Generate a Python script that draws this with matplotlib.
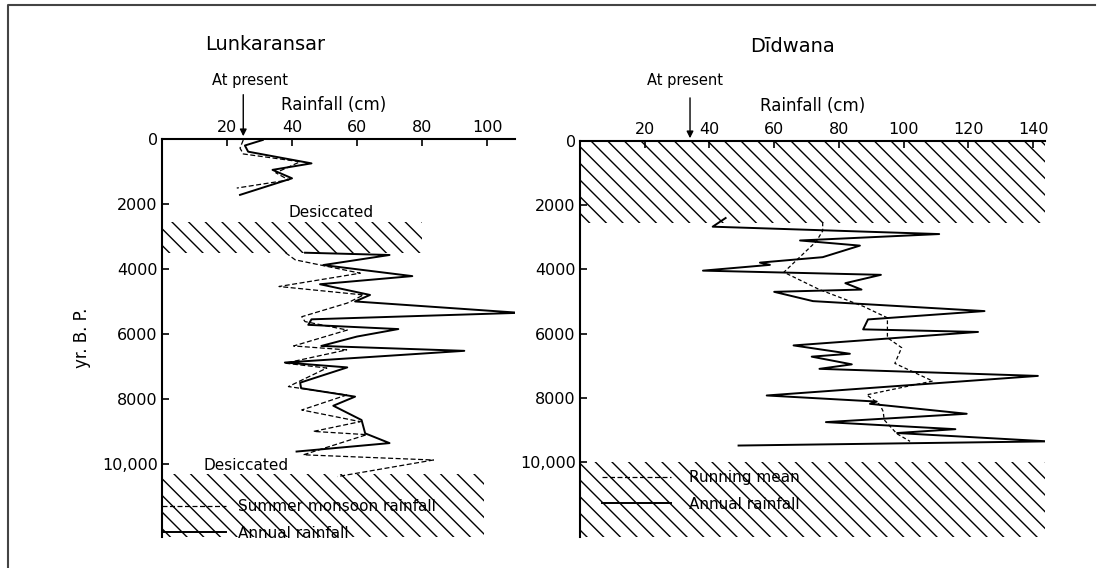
import numpy as np
import matplotlib
matplotlib.use("Agg")
import matplotlib.pyplot as plt
from matplotlib.patches import Rectangle
from matplotlib.lines import Line2D

# Lunkaransar: annual and summer monsoon rainfall (cm) vs yr B.P.
lunk_annual_yr_a = [30, 200, 390, 750, 950, 1210, 1720]
lunk_annual_cm_a = [31, 25.5, 26.5, 46, 34, 40, 24]
lunk_summer_yr_a = [30, 280, 460, 700, 1040, 1260, 1510]
lunk_summer_cm_a = [25, 24, 25, 42.5, 35, 39, 23]

lunk_annual_yr_b = [3500, 3570, 3880, 4220, 4470, 4800, 5000, 5350, 5550, 5720, 5850,
                    6080, 6370, 6520, 6880, 7030, 7500, 7670, 7930, 8210, 8650, 9060,
                    9360, 9620]
lunk_annual_cm_b = [44, 70, 49.6, 77, 48.6, 64, 59.4, 110, 46, 45, 72.7,
                    60, 49, 93, 37.8, 57, 42.5, 42.8, 59.4, 52.7, 61.4, 62.5,
                    70, 41.4]
lunk_summer_yr_b = [3500, 3720, 4130, 4540, 4800, 5050, 5470, 5620, 5880, 6370, 6490,
                    6900, 7050, 7620, 7880, 8340, 8700, 9000, 9100, 9720, 9880, 10390]
lunk_summer_cm_b = [38, 41, 61, 36, 62, 57, 43, 44, 57, 40.5, 56.8,
                    37.9, 50.7, 38.9, 56.8, 43, 61, 46.6, 63, 43.5, 83.5, 54]

# Didwana: annual rainfall and running mean
did_annual_yr = [2400, 2670, 2900, 3100, 3260, 3620, 3790, 3860, 4040, 4170, 4430,
                 4630, 4700, 4990, 5300, 5560, 5870, 5950, 6370, 6630, 6720, 6960,
                 7100, 7320, 7650, 7930, 8120, 8190, 8500, 8760, 8980, 9100, 9360, 9490]
did_annual_cm = [45, 41, 111, 68, 86.5, 75, 55.6, 58.7, 38, 93, 82,
                 87, 60, 72, 125, 89, 87.5, 123, 66, 83.4, 71.6, 84,
                 74, 141.5, 96, 57.7, 91.7, 89.6, 119.5, 76, 116, 98, 144.6, 49]
did_mean_yr = [2540, 2800, 3130, 4090, 4630, 5150, 5510, 6130, 6440, 6930, 7480,
               7910, 8220, 8430, 8690, 9120, 9360]
did_mean_cm = [75, 75, 73, 63, 74, 87.5, 95, 95, 99.4, 97.3, 109,
               88.6, 92.7, 93.7, 94, 97.9, 102]

# desiccated (hatched) intervals: (x_max, yr_top, yr_bottom)
lunk_hatch = [(80, 2550, 3500), (99, 10300, 12250)]
did_hatch = [(145, 0, 2550), (145, 10000, 12340)]

y_ticks = [0, 2000, 4000, 6000, 8000, 10000]
y_labels = ["0", "2000", "4000", "6000", "8000", "10,000"]

plt.rcParams["font.family"] = "DejaVu Sans"
plt.rcParams["hatch.linewidth"] = 1.0

W, H = 1101, 568
fig = plt.figure(figsize=(W / 100, H / 100), dpi=100)


def px_axes(x0, x1, y0, y1):
    return fig.add_axes([x0 / W, 1 - y1 / H, (x1 - x0) / W, (y1 - y0) / H])


def style(ax, xmax, ymax, xticks):
    ax.set_xlim(0, xmax)
    ax.set_ylim(ymax, 0)
    for s in ["right", "bottom"]:
        ax.spines[s].set_visible(False)
    for s in ["left", "top"]:
        ax.spines[s].set_linewidth(1.5)
    ax.xaxis.tick_top()
    ax.set_xticks(xticks)
    ax.set_yticks(y_ticks)
    ax.set_yticklabels(y_labels)
    ax.tick_params(direction="in", length=5, width=1.2, labelsize=11.5, pad=3)
    ax.patch.set_alpha(0)


def hatch(ax, regions):
    for xmax, top, bot in regions:
        ax.add_patch(Rectangle((0, top), xmax, bot - top, facecolor="none",
                               edgecolor="black", hatch="\\\\", linewidth=0))


# ---- Lunkaransar ----
ax1 = px_axes(162, 515, 139, 537)
style(ax1, 108.6, 12250, [20, 40, 60, 80, 100])
hatch(ax1, lunk_hatch)
ax1.plot(lunk_annual_cm_a, lunk_annual_yr_a, "k-", lw=1.4)
ax1.plot(lunk_summer_cm_a, lunk_summer_yr_a, "k--", lw=0.9, dashes=(4, 2))
ax1.plot(lunk_annual_cm_b, lunk_annual_yr_b, "k-", lw=1.4)
ax1.plot(lunk_summer_cm_b, lunk_summer_yr_b, "k--", lw=0.9, dashes=(4, 2))
ax1.annotate("", xy=(25, 0), xytext=(25, -1450),
             arrowprops=dict(arrowstyle="-|>", color="black", lw=1.0, mutation_scale=10))
ax1.text(27, -1815, "At present", ha="center", va="center", fontsize=10.5)
ax1.text(52, 2250, "Desiccated", ha="center", va="center", fontsize=11)
ax1.text(26, 10050, "Desiccated", ha="center", va="center", fontsize=11)
h1 = [Line2D([], [], color="k", ls="--", lw=0.9, dashes=(4, 2)),
      Line2D([], [], color="k", lw=1.4)]
ax1.legend(h1, ["Summer monsoon rainfall", "Annual rainfall"], loc="upper left",
           bbox_to_anchor=(0.0, 0.095), frameon=False, fontsize=11,
           handlelength=4.2, handletextpad=0.8, labelspacing=0.75,
           borderpad=0, borderaxespad=0)
ax1.set_ylabel("yr. B. P.", fontsize=12, labelpad=8)

# ---- Didwana ----
ax2 = px_axes(580, 1045, 141, 537)
style(ax2, 143.7, 12340, [20, 40, 60, 80, 100, 120, 140])
hatch(ax2, did_hatch)
ax2.plot(did_annual_cm, did_annual_yr, "k-", lw=1.4)
ax2.plot(did_mean_cm, did_mean_yr, "k--", lw=0.9, dashes=(3, 2))
ax2.annotate("", xy=(34, 0), xytext=(34, -1430),
             arrowprops=dict(arrowstyle="-|>", color="black", lw=1.0, mutation_scale=10))
ax2.text(32.4, -1900, "At present", ha="center", va="center", fontsize=10.5)
h2 = [Line2D([], [], color="k", ls="--", lw=0.9, dashes=(4, 2)),
      Line2D([], [], color="k", lw=1.4)]
ax2.legend(h2, ["Running mean", "Annual rainfall"], loc="upper left",
           bbox_to_anchor=(0.047, 0.169), frameon=False, fontsize=11,
           handlelength=4.5, handletextpad=1.2, labelspacing=0.75,
           borderpad=0, borderaxespad=0)

# titles and axis labels
fig.text(265 / W, 1 - 45 / H, "Lunkaransar", ha="center", va="center", fontsize=14)
fig.text(792 / W, 1 - 47 / H, "Dīdwana", ha="center", va="center", fontsize=14)
fig.text(334 / W, 1 - 105 / H, "Rainfall (cm)", ha="center", va="center", fontsize=12)
fig.text(813 / W, 1 - 106 / H, "Rainfall (cm)", ha="center", va="center", fontsize=12)

# frame around the figure (left and top edges)
fig.add_artist(Line2D([8 / W, 8 / W, 1095 / W], [0, 1 - 5 / H, 1 - 5 / H],
                      color="#444444", lw=1.5, transform=fig.transFigure))

fig.savefig("out.png", dpi=100)
